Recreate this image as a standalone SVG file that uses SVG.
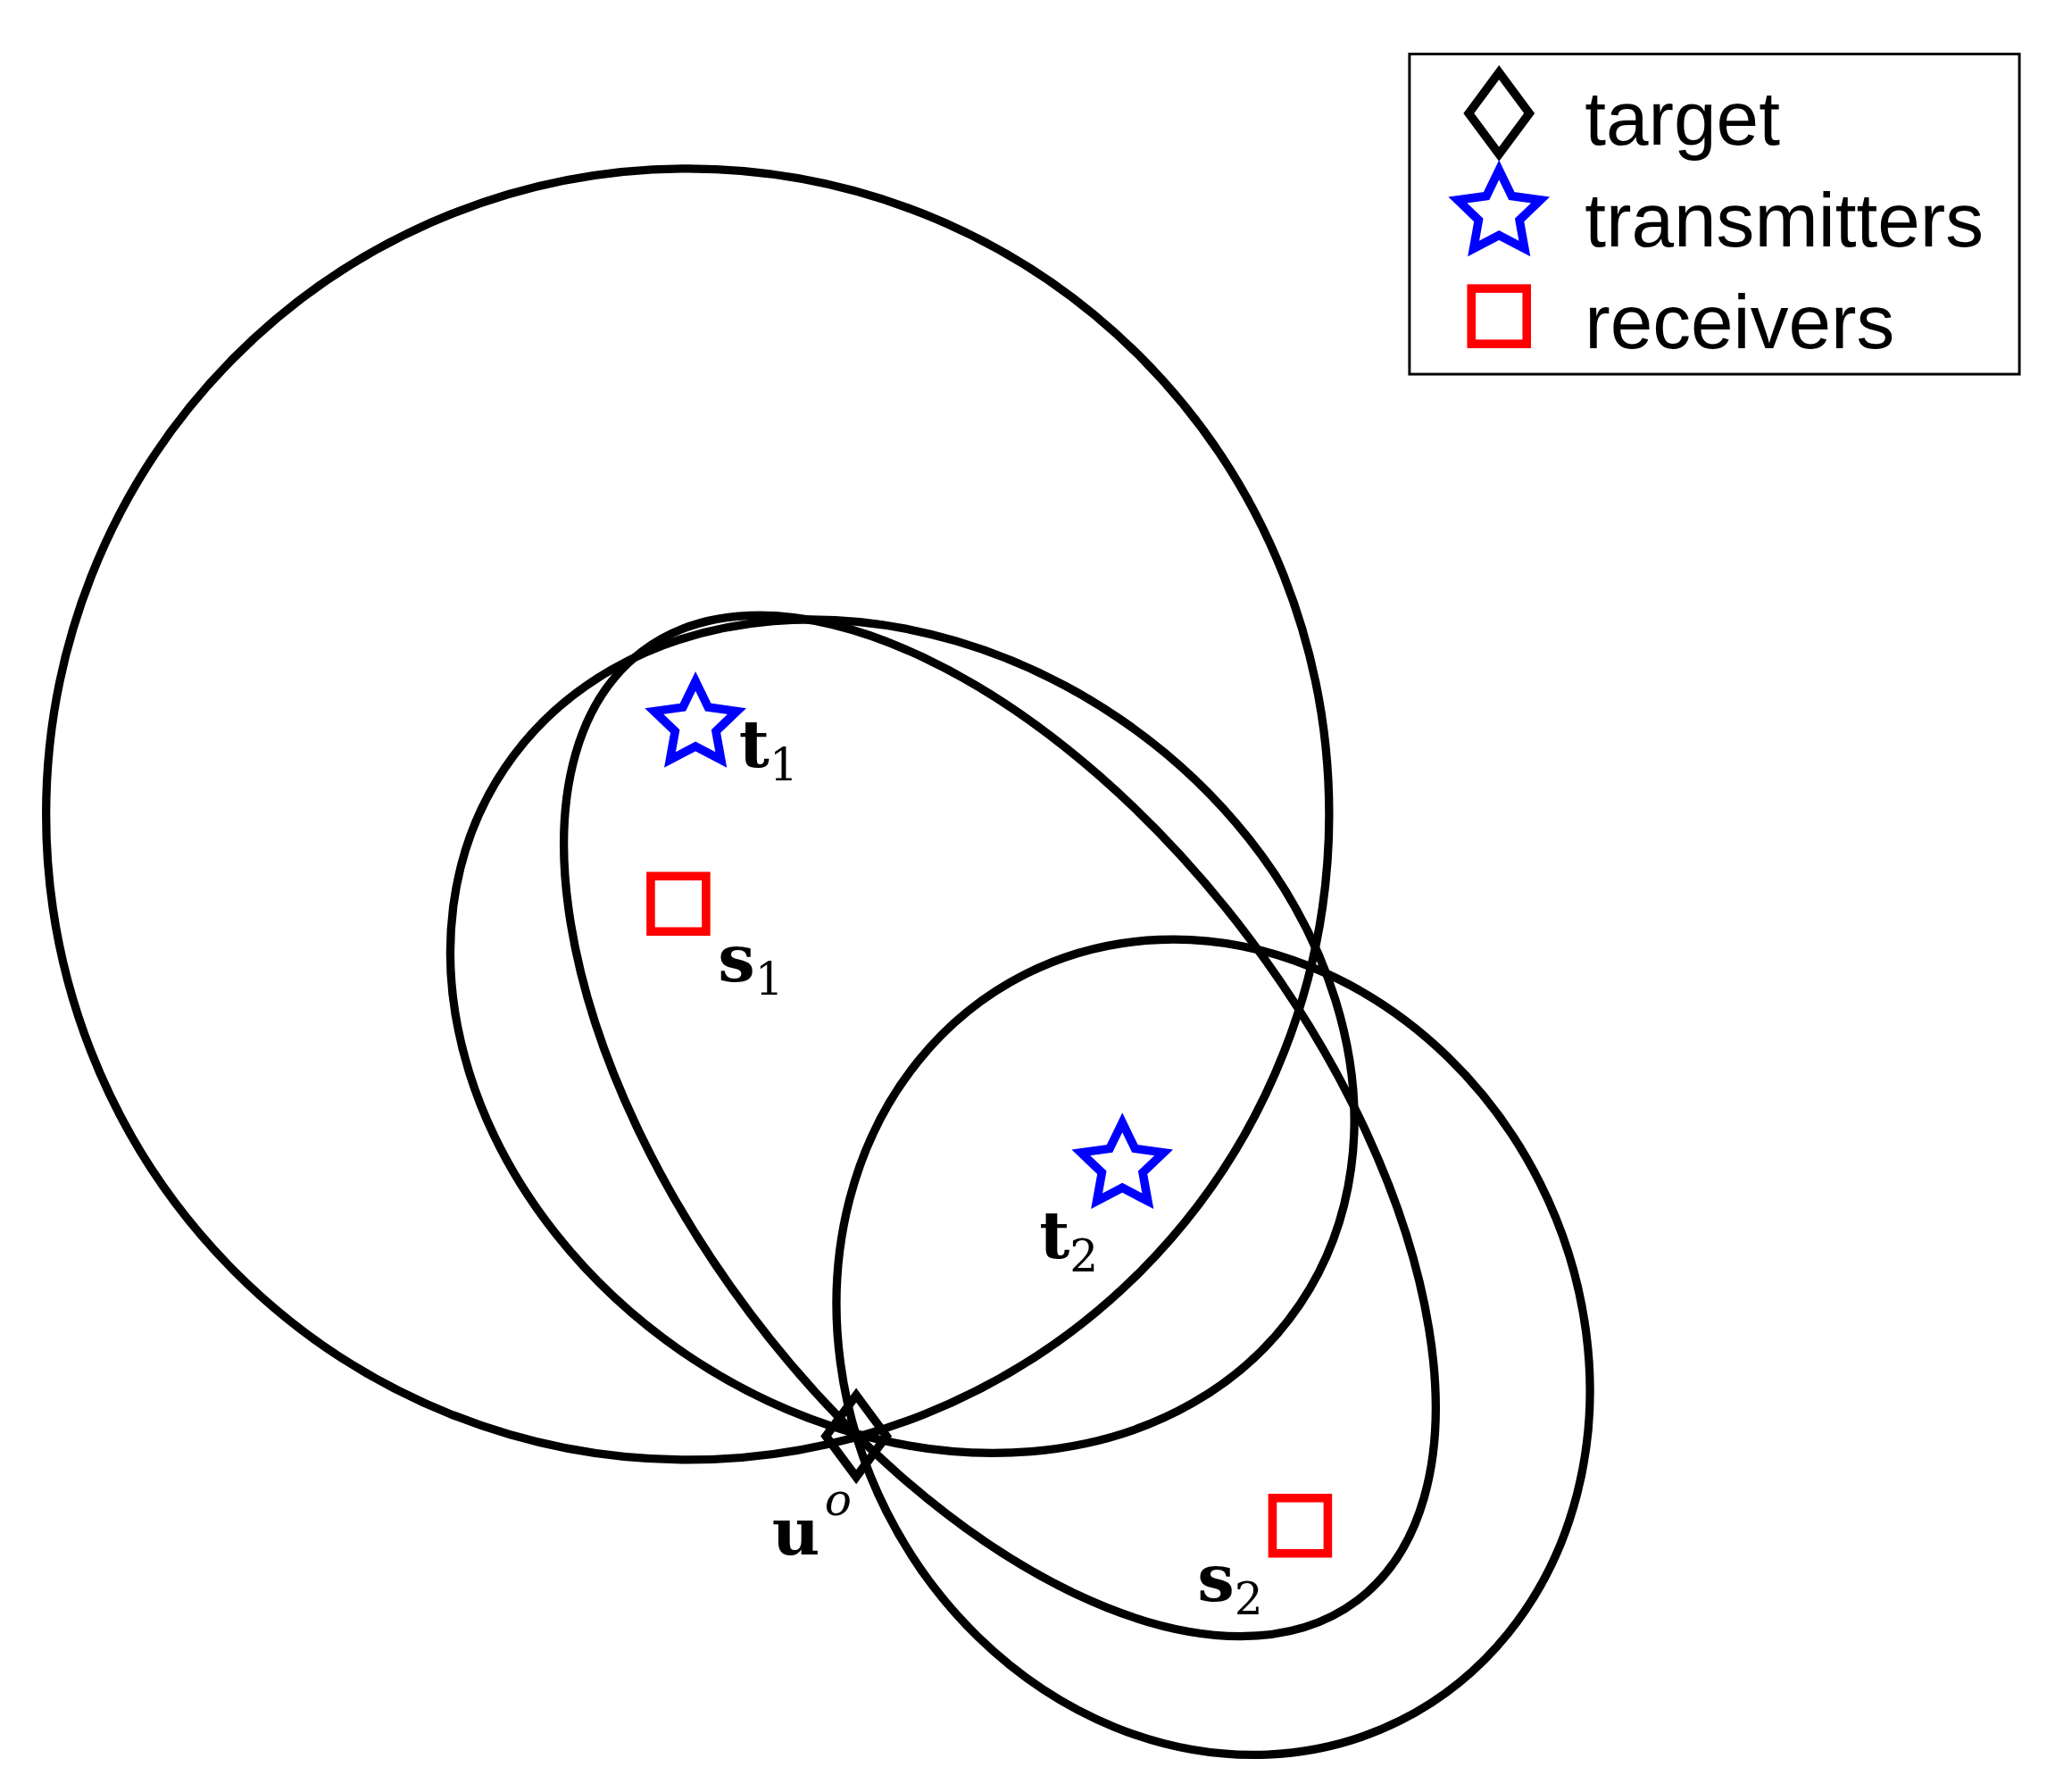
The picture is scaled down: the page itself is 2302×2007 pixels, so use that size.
<svg xmlns="http://www.w3.org/2000/svg" width="2302" height="2007" viewBox="0 0 2302 2007">
<style>
.c{fill:none;stroke:#000;stroke-width:6.3}
.lab{font-family:"DejaVu Serif","Liberation Serif",serif;font-weight:bold;font-size:50px}
.sub{font-family:"DejaVu Serif","Liberation Serif",serif;font-weight:normal;font-size:34px}
.leg{font-family:"Liberation Sans",Arial,sans-serif;font-size:58px}
</style>
<defs>
<polygon id="star" points="0,-33 9.6,-13.2 31.4,-10.2 15.5,5 19.4,26.7 0,16.5 -19.4,26.7 -15.5,5 -31.4,-10.2 -9.6,-13.2" fill="#fff" stroke="#00f" stroke-width="6.5"/>
<rect id="sq" x="-21" y="-21" width="42" height="42" fill="none" stroke="#f00" stroke-width="6.5"/>
<polygon id="dia" points="0,-31 23,0 0,31 -23,0" fill="none" stroke="#000" stroke-width="6.5"/>
</defs>
<rect width="2302" height="2007" fill="#fff"/>
<g transform="scale(1.4756)">
<g id="connectors">
<ellipse class="c" cx="522" cy="618" rx="487" ry="490"/>
<ellipse class="c" cx="685" cy="786.5" rx="364" ry="292" transform="rotate(34 685 786.5)"/>
<ellipse class="c" cx="759" cy="854.5" rx="451" ry="237" transform="rotate(53 759 854.5)"/>
<ellipse class="c" cx="921" cy="1022.5" rx="317" ry="277.6" transform="rotate(63.3 921 1022.5)"/>
</g>
<g id="target"><use href="#dia" x="650" y="1090"/><text class="lab" x="586" y="1180">u</text><text class="sub" x="626" y="1150" font-style="italic">o</text></g>
<g id="t1"><use href="#star" x="528" y="550"/><text class="lab" x="561" y="582">t<tspan class="sub" dy="10">1</tspan></text></g>
<g id="t2"><use href="#star" x="852" y="885"/><text class="lab" x="789" y="955">t<tspan class="sub" dy="10">2</tspan></text></g>
<g id="s1"><use href="#sq" x="515" y="686"/><text class="lab" x="545" y="745">s<tspan class="sub" dy="10">1</tspan></text></g>
<g id="s2"><use href="#sq" x="987" y="1158"/><text class="lab" x="909" y="1215">s<tspan class="sub" dy="10">2</tspan></text></g>
<g id="legend">
<rect x="1070" y="41" width="463" height="243" fill="#fff" stroke="#000" stroke-width="2"/>
<use href="#dia" x="1138" y="86"/><text class="leg" x="1203" y="110">target</text>
<use href="#star" x="1138" y="162"/><text class="leg" x="1203" y="187">transmitters</text>
<use href="#sq" x="1138" y="240"/><text class="leg" x="1203" y="264">receivers</text>
</g>
</g>
</svg>
